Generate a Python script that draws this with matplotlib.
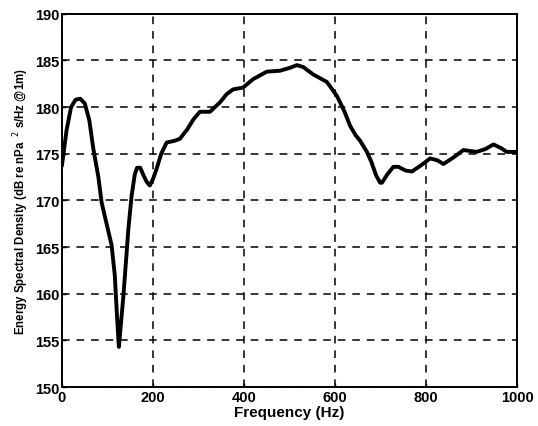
import matplotlib
matplotlib.use("Agg")
import matplotlib.pyplot as plt

freq = [0, 10, 20, 30, 40, 50, 60, 69, 80, 87, 98, 109, 116, 121, 125, 129, 135, 146, 153, 160, 165, 172, 179, 186, 193, 200, 208, 218, 230, 248, 259, 275, 289, 303, 325, 347, 362, 376, 398, 420, 450, 479, 500, 516, 530, 552, 582, 604, 620, 633, 645, 655, 670, 680, 690, 699, 703, 715, 728, 739, 755, 769, 790, 809, 825, 838, 860, 882, 911, 930, 948, 965, 977, 1000]
esd = [173.8, 177.5, 180.0, 180.8, 180.9, 180.4, 178.6, 175.5, 172.5, 169.8, 167.5, 165.2, 162.0, 157.5, 154.3, 156.5, 159.8, 167.0, 170.5, 172.8, 173.5, 173.5, 172.7, 172.0, 171.6, 172.3, 173.4, 175.0, 176.2, 176.4, 176.6, 177.6, 178.7, 179.5, 179.5, 180.5, 181.4, 181.9, 182.1, 183.0, 183.8, 183.9, 184.2, 184.5, 184.3, 183.5, 182.7, 181.2, 179.6, 178.0, 177.0, 176.4, 175.2, 174.1, 172.7, 171.9, 171.9, 172.8, 173.6, 173.6, 173.2, 173.1, 173.8, 174.5, 174.3, 173.9, 174.6, 175.4, 175.2, 175.5, 176.0, 175.6, 175.2, 175.2]

xticks = [0, 200, 400, 600, 800, 1000]
yticks = [150, 155, 160, 165, 170, 175, 180, 185, 190]

plt.rcParams['font.family'] = ['Liberation Sans', 'DejaVu Sans']
fig = plt.figure(figsize=(5.38, 4.27), dpi=100)
ax = fig.add_axes([0.1152, 0.0913, 0.846, 0.874])
ax.plot(freq, esd, color='black', linewidth=2.8)
ax.set_xlim(0, 1000)
ax.set_ylim(150, 190)
ax.set_xticks(xticks)
ax.set_yticks(yticks)
ax.grid(True, color='black', linestyle=(0, (5, 4.5)), linewidth=1.1)
for s in ax.spines.values():
    s.set_linewidth(1.4)
ax.tick_params(direction='in', length=3, labelsize=10.5, width=1, pad=2)
for lbl in ax.get_xticklabels() + ax.get_yticklabels():
    lbl.set_fontweight('bold')
ax.set_xlabel('Frequency (Hz)', fontsize=11, fontweight='bold', labelpad=1)
ax.set_ylabel('Energy Spectral Density (dB re nPa$^{\\ \\ 2}$ s/Hz @1m)', fontsize=8.3, fontweight='bold', labelpad=3)
fig.savefig('out.png', dpi=100)
